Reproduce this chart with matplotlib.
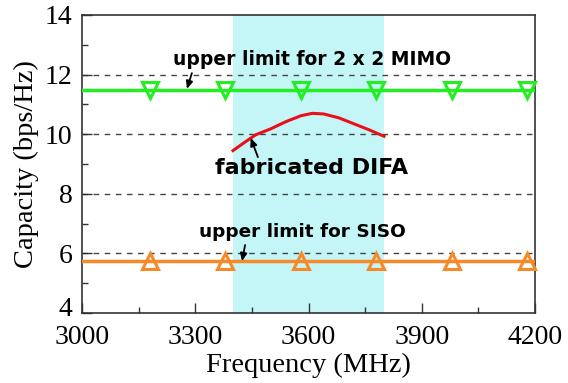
import matplotlib
matplotlib.use("Agg")
import matplotlib.pyplot as plt
import matplotlib.transforms as mtransforms
from matplotlib.ticker import MultipleLocator

# Data
marker_freq = [3180, 3380, 3580, 3780, 3980, 4180]
mimo_limit = 11.5
siso_limit = 5.75
difa_freq = [3400, 3430, 3460, 3500, 3540, 3580, 3610, 3640, 3680, 3720, 3760, 3800]
difa_cap = [9.45, 9.72, 9.98, 10.18, 10.42, 10.62, 10.70, 10.68, 10.55, 10.35, 10.15, 9.93]
band = [3400, 3800]
xticks = [3000, 3300, 3600, 3900, 4200]
yticks = [4, 6, 8, 10, 12, 14]

fig = plt.figure(figsize=(5.68, 3.83), dpi=100)
ax = fig.add_axes([82/568, 1-313/383, (535-82)/568, (313-15)/383])
ax.set_xlim(3000, 4200)
ax.set_ylim(4, 14)

ax.axvspan(band[0], band[1], color="#c4f6f8", lw=0, zorder=0)
for y in [6, 8, 10, 12]:
    ax.axhline(y, color="#444444", lw=1.0, ls=(0, (4, 4)), zorder=1)

ax.plot([3000, 4200], [mimo_limit]*2, color="#22ee22", lw=2.5, zorder=3)
ax.plot(marker_freq, [mimo_limit]*len(marker_freq), ls="none", marker="v", ms=11,
        mfc="none", mec="#22ee22", mew=2.2, zorder=4, clip_on=False)
ax.plot([3000, 4200], [siso_limit]*2, color="#f78a28", lw=2.5, zorder=3)
ax.plot(marker_freq, [siso_limit]*len(marker_freq), ls="none", marker="^", ms=11,
        mfc="none", mec="#f78a28", mew=2.2, zorder=4, clip_on=False)
ax.plot(difa_freq, difa_cap, color="#e8101a", lw=2.2, zorder=3)

tf = dict(fontfamily="DejaVu Sans", fontweight="bold", color="black")
ax.text(3609, 12.5, "upper limit for 2 x 2 MIMO", ha="center", va="center", fontsize=13.5, **tf)
ax.text(3607, 8.85, "fabricated DIFA", ha="center", va="center", fontsize=16, **tf)
ax.text(3583, 6.72, "upper limit for SISO", ha="center", va="center", fontsize=13.3, **tf)
ap = dict(arrowstyle="-|>,head_length=0.45,head_width=0.2", color="black", lw=1.3,
          shrinkA=0, shrinkB=0)
ax.annotate("", xy=(3278, 11.52), xytext=(3291, 12.05), arrowprops=ap)
ax.annotate("", xy=(3447, 9.87), xytext=(3466, 9.23), arrowprops=ap)
ax.annotate("", xy=(3424, 5.74), xytext=(3432, 6.28), arrowprops=ap)

ax.set_xticks(xticks)
ax.set_yticks(yticks)
ax.xaxis.set_minor_locator(MultipleLocator(150))
ax.yaxis.set_minor_locator(MultipleLocator(1))
ax.tick_params(which="both", direction="in", top=False, right=False, color="#333333")
ax.tick_params(which="major", length=7, width=1, labelsize=20)
ax.tick_params(which="minor", length=4, width=1)
ax.tick_params(axis="x", which="major", pad=9)
ax.tick_params(axis="y", which="major", pad=7)
for lab in ax.get_xticklabels() + ax.get_yticklabels():
    lab.set_fontfamily("Liberation Serif")
for s in ax.spines.values():
    s.set_color("#333333")
    s.set_linewidth(1.2)
ax.set_xlabel("Frequency (MHz)", fontfamily="Liberation Serif", fontsize=20.5, labelpad=2)
ax.set_ylabel("Capacity (bps/Hz)", fontfamily="Liberation Serif", fontsize=20.5, labelpad=4)

fig.canvas.draw()
lab4 = ax.yaxis.get_major_ticks()[0].label1
lab4.set_transform(lab4.get_transform() + mtransforms.ScaledTranslation(0, 5/72, fig.dpi_scale_trans))

fig.savefig("out.png", dpi=100)
